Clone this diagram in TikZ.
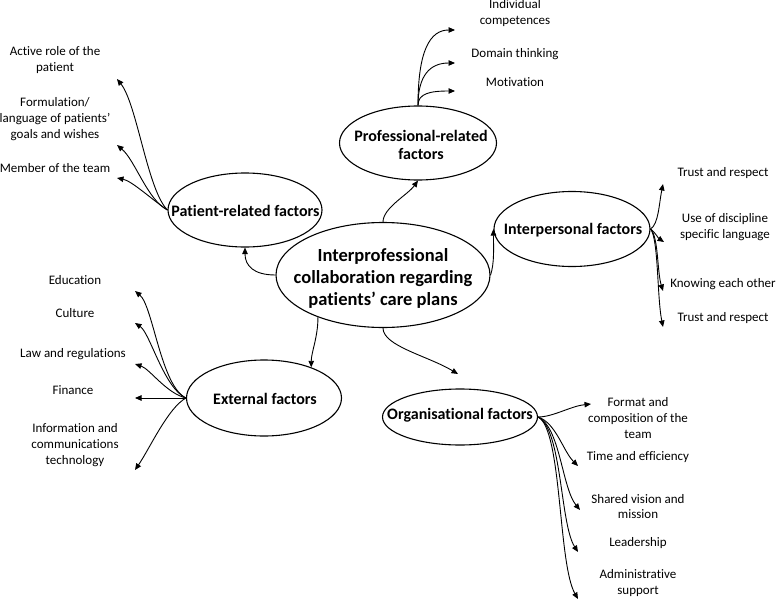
\documentclass[tikz,border=0pt]{standalone}
\usepackage{fontspec}
\setmainfont{Carlito}[Ligatures=NoCommon]
\usetikzlibrary{arrows.meta,shapes.geometric}
\begin{document}
\begin{tikzpicture}[x=1pt,y=-1pt,
  bub/.style={draw, ellipse, line width=1.1pt, inner sep=0pt},
  ftxt/.style={font=\fontsize{16}{18.5}\selectfont\bfseries, align=center, inner sep=0pt},
  mtxt/.style={font=\fontsize{18.5}{22}\selectfont\bfseries, align=center, inner sep=0pt},
  ltxt/.style={font=\fontsize{13}{15.8}\selectfont, align=center, inner sep=0pt},
  con/.style={line width=0.9pt, -{Triangle[length=6.5pt,width=5.5pt]}}
]
\useasboundingbox (0,0) rectangle (778,602);

% ellipses
\node[bub, minimum width=214pt, minimum height=105pt] (main) at (383,275) {};
\node[mtxt] (mainT) at (383,278) {Interprofessional\\collaboration regarding\\patients’ care plans};

\node[bub, minimum width=154pt, minimum height=74pt] (pat) at (245,210) {};
\node[ftxt] (patT) at (245.5,211) {Patient-related factors};

\node[bub, minimum width=157pt, minimum height=74pt] (prof) at (418,143) {};
\node[ftxt] (profT) at (421,145) {Professional-related\\factors};

\node[bub, minimum width=156pt, minimum height=75pt] (inter) at (572,229) {};
\node[ftxt] (interT) at (573,230) {Interpersonal factors};

\node[bub, minimum width=155pt, minimum height=76pt] (ext) at (264,398) {};
\node[ftxt] (extT) at (265,399) {External factors};

\node[bub, minimum width=155pt, minimum height=56pt] (org) at (460,417) {};
\node[ftxt] (orgT) at (460,415) {Organisational factors};

% leaf labels
\node[ltxt] (l1) at (55,60) {Active role of the\\patient};
\node[ltxt] (l2) at (55,119) {Formulation/\\language of patients’\\goals and wishes};
\node[ltxt] (l3) at (55,168) {Member of the team};

\node[ltxt] (l4) at (515,13) {Individual\\competences};
\node[ltxt] (l5) at (515,54) {Domain thinking};
\node[ltxt] (l6) at (515,82) {Motivation};

\node[ltxt] (l7) at (723,173) {Trust and respect};
\node[ltxt] (l8) at (725,227) {Use of discipline\\specific language};
\node[ltxt] (l9) at (723,284) {Knowing each other};
\node[ltxt] (l10) at (723,318) {Trust and respect};

\node[ltxt] (l11) at (75,280) {Education};
\node[ltxt] (l12) at (75,313) {Culture};
\node[ltxt] (l13) at (73,354) {Law and regulations};
\node[ltxt] (l14) at (73,390) {Finance};
\node[ltxt] (l15) at (75,445) {Information and\\communications\\technology};

\node[ltxt] (l16) at (638,418) {Format and\\composition of the\\team};
\node[ltxt] (l17) at (638,457) {Time and efficiency};
\node[ltxt] (l18) at (638,506.5) {Shared vision and\\mission};
\node[ltxt] (l19) at (638,543) {Leadership};
\node[ltxt] (l20) at (638,583) {Administrative\\support};

% arrow tip coordinates
\coordinate (pt1) at (117,79);
\coordinate (pt2) at (117,145);
\coordinate (pt3) at (117,178);
\coordinate (pr1) at (455,30);
\coordinate (pr2) at (455,63);
\coordinate (pr3) at (455,91);
\coordinate (ip1) at (663,184);
\coordinate (ip2) at (664,242);
\coordinate (ip3) at (663,291);
\coordinate (ip4) at (663,327);
\coordinate (ex1) at (135,291);
\coordinate (ex2) at (135,323);
\coordinate (ex3) at (135,364);
\coordinate (ex4) at (135,398);
\coordinate (ex5) at (135,470);
\coordinate (og1) at (591,404);
\coordinate (og2) at (578,466);
\coordinate (og3) at (580,510);
\coordinate (og4) at (578,552);
\coordinate (og5) at (578,599);
\coordinate (orgtip) at (458,374);

% main connectors
\draw[con] (main.west) .. controls +(-22,0) and +(0,18) .. (pat.south);
\draw[con] (main.north) .. controls +(0,-14) and +(-10,14) .. (prof.south);
\draw[con] (main.east) .. controls +(4,-12) and +(0,18) .. (inter.west);
\draw[con] (main.213) .. controls +(0,20) and +(0,-15) .. (ext.33);
\draw[con] (main.south) .. controls +(0,18) and +(-30,-18) .. (orgtip);

% patient-related
\draw[con] (pat.west) .. controls +(-20,-20) and +(20,25) .. (pt1);
\draw[con] (pat.west) .. controls +(-20,-10) and +(18,15) .. (pt2);
\draw[con] (pat.west) .. controls +(-15,-10) and +(15,3) .. (pt3);

% professional-related
\draw[con] (prof.north) .. controls +(0,-55) and +(-25,0) .. (pr1);
\draw[con] (prof.north) .. controls +(0,-30) and +(-25,0) .. (pr2);
\draw[con] (prof.north) .. controls +(0,-12) and +(-25,0) .. (pr3);

% interpersonal
\draw[con] (inter.east) .. controls +(8,-5) and +(-4,20) .. (ip1);
\draw[con] (inter.east) .. controls +(6,5) and +(-6,-4) .. (ip2);
\draw[con] (inter.east) .. controls +(8,8) and +(-6,-20) .. (ip3);
\draw[con] (inter.east) .. controls +(8,10) and +(-6,-30) .. (ip4);

% external
\draw[con] (ext.west) .. controls +(-25,-12) and +(18,15) .. (ex1);
\draw[con] (ext.west) .. controls +(-22,-10) and +(15,10) .. (ex2);
\draw[con] (ext.west) .. controls +(-20,-5) and +(15,5) .. (ex3);
\draw[con] (ext.west) -- (ex4);
\draw[con] (ext.west) .. controls +(-18,10) and +(15,-22) .. (ex5);

% organisational
\draw[con] (org.east) .. controls +(15,0) and +(-20,2) .. (og1);
\draw[con] (org.east) .. controls +(18,6) and +(-15,-15) .. (og2);
\draw[con] (org.east) .. controls +(22,10) and +(-18,-22) .. (og3);
\draw[con] (org.east) .. controls +(24,12) and +(-18,-28) .. (og4);
\draw[con] (org.east) .. controls +(24,12) and +(-20,-35) .. (og5);
\end{tikzpicture}
\end{document}
